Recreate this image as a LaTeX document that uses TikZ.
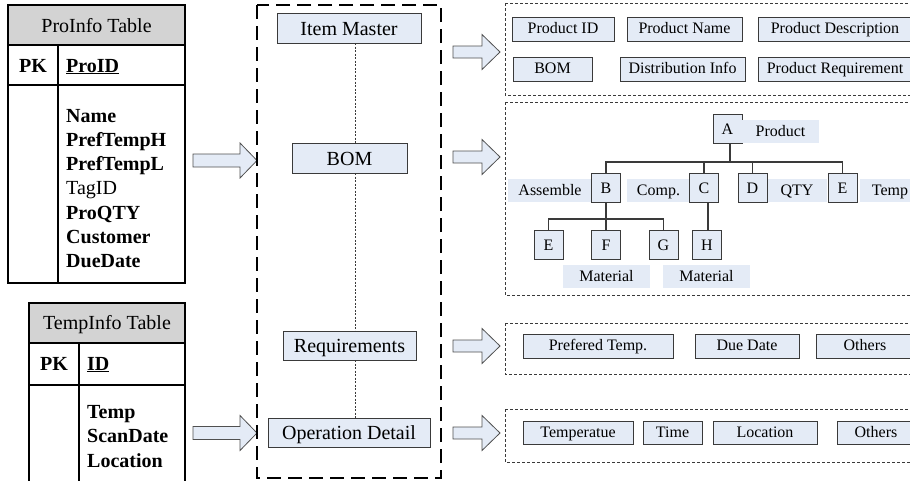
\documentclass[tikz,border=0pt]{standalone}
\usepackage{fontspec}
\setmainfont{Liberation Serif}
\definecolor{boxblue}{HTML}{E4EBF6}
\definecolor{boxline}{HTML}{3A3A3A}
\definecolor{hdrgray}{HTML}{D3D3D3}
\definecolor{arrline}{HTML}{505050}
\tikzset{
  item/.style={draw=boxline, fill=boxblue, line width=0.9pt, inner sep=0pt, outer sep=0pt,
    font=\fontsize{16}{19}\selectfont, minimum height=24pt, text height=12pt, text depth=3pt},
  mid/.style={item, font=\fontsize{20}{24}\selectfont, minimum height=30pt, text height=17pt, text depth=3pt},
  tb/.style={draw=boxline, fill=boxblue, line width=0.9pt, minimum width=29pt, minimum height=29pt,
    inner sep=0pt, outer sep=0pt, font=\fontsize{16}{19}\selectfont, text height=15pt, text depth=3pt},
  lbl/.style={fill=boxblue, inner sep=0pt, outer sep=0pt, minimum height=23pt, font=\fontsize{16}{19}\selectfont,
    text height=13pt, text depth=3pt},
  tabtxt/.style={anchor=base west, inner sep=0pt, font=\fontsize{20}{24}\selectfont},
  tabhdr/.style={anchor=base, inner sep=0pt, font=\fontsize{20}{24}\selectfont},
  tabline/.style={draw=black, line width=1.2pt},
  tree/.style={draw=boxline, line width=1.1pt},
  thindash/.style={draw=boxline, line width=0.8pt, dash pattern=on 3pt off 2pt},
  middash/.style={draw=black, line width=2.6pt, dash pattern=on 14pt off 7pt},
  link/.style={draw=boxline, line width=0.7pt, dash pattern=on 2pt off 1.5pt},
  leftarr/.pic={\draw[line width=0.8pt, draw=arrline, fill=boxblue]
    (0,-6.5) -- (47,-6.5) -- (47,-17.5) -- (64,0) -- (47,17.5) -- (47,6.5) -- (0,6.5) -- cycle;},
  rightarr/.pic={\draw[line width=0.8pt, draw=arrline, fill=boxblue]
    (0,-6) -- (29,-6) -- (29,-17.5) -- (47,0) -- (29,17.5) -- (29,6) -- (0,6) -- cycle;}
}
\begin{document}
\begin{tikzpicture}[x=1pt,y=-1pt]
\useasboundingbox (0,0) rectangle (910,480);
\clip (0,0) rectangle (910,480);

% ---------- ProInfo table ----------
\fill[hdrgray] (8,5) rectangle (185,45);
\draw[tabline] (8,5) rectangle (185,283);
\draw[tabline] (8,45) -- (185,45);
\draw[tabline] (8,85) -- (185,85);
\draw[tabline] (58,45) -- (58,283);
\node[tabhdr] (t1title) at (96.5,32) {ProInfo Table};
\node[tabhdr] (t1pk) at (33,72) {\bfseries PK};
\node[tabtxt] (t1id) at (66,72) {\bfseries\underline{ProID}};
\node[tabtxt] (f1) at (66,122) {\bfseries Name};
\node[tabtxt] (f2) at (66,146.3) {\bfseries PrefTempH};
\node[tabtxt] (f3) at (66,170.6) {\bfseries PrefTempL};
\node[tabtxt] (f4) at (66,194.9) {TagID};
\node[tabtxt] (f5) at (66,219.2) {\bfseries ProQTY};
\node[tabtxt] (f6) at (66,243.5) {\bfseries Customer};
\node[tabtxt] (f7) at (66,267.8) {\bfseries DueDate};

% ---------- TempInfo table ----------
\fill[hdrgray] (29,303) rectangle (185,343);
\draw[tabline] (29,303) rectangle (185,500);
\draw[tabline] (29,343) -- (185,343);
\draw[tabline] (29,385) -- (185,385);
\draw[tabline] (79,343) -- (79,500);
\node[tabhdr] (t2title) at (107,329) {TempInfo Table};
\node[tabhdr] (t2pk) at (54,370) {\bfseries PK};
\node[tabtxt] (t2id) at (87,370) {\bfseries\underline{ID}};
\node[tabtxt] (g1) at (87,418) {\bfseries Temp};
\node[tabtxt] (g2) at (87,442.5) {\bfseries ScanDate};
\node[tabtxt] (g3) at (87,467) {\bfseries Location};

% ---------- left block arrows ----------
\pic at (193,160.5) {leftarr};
\pic at (193,433) {leftarr};

% ---------- middle column ----------
\draw[middash] (257,5) rectangle (441,478);
\node[mid, minimum width=144pt] (im) at (349,28) {Item Master};
\node[mid, minimum width=115pt] (bom) at (349.5,158) {BOM};
\node[mid, minimum width=133pt, minimum height=29pt] (req) at (349.5,345.5) {Requirements};
\node[mid, minimum width=162pt, minimum height=29pt] (op) at (349,432.5) {Operation Detail};
\draw[link] ([xshift=6pt]im.south) -- ([xshift=6pt]im.south |- bom.north);
\draw[link] ([xshift=5.5pt]bom.south) -- ([xshift=5.5pt]bom.south |- req.north);
\draw[link] ([xshift=5.5pt]req.south) -- ([xshift=5.5pt]req.south |- op.north);

% ---------- right block arrows ----------
\pic at (453,52) {rightarr};
\pic at (453,157) {rightarr};
\pic at (453,346) {rightarr};
\pic at (453,433) {rightarr};

% ---------- right dashed boxes ----------
\draw[thindash] (505,3) -- (925,3) (505,3) -- (505,95) -- (925,95);
\draw[thindash] (505,102) -- (925,102) (505,102) -- (505,295) -- (925,295);
\draw[thindash] (505,323) -- (925,323) (505,323) -- (505,374) -- (925,374);
\draw[thindash] (505,409) -- (925,409) (505,409) -- (505,462) -- (925,462);

% box 1: item master fields
\node[item, minimum width=102pt] (pid) at (563,29) {Product ID};
\node[item, minimum width=115pt] (pname) at (684.5,29) {Product Name};
\node[item, minimum width=154pt] (pdesc) at (835,29) {Product Description};
\node[item, minimum width=79pt] (pbom) at (552.5,69) {BOM};
\node[item, minimum width=125pt] (pdist) at (682.5,69) {Distribution Info};
\node[item, minimum width=154pt] (preq) at (835,69) {Product Requirement};

% box 2: BOM tree
\node[lbl, minimum width=84pt] (lasm) at (550,190) {Assemble};
\node[lbl, minimum width=63pt] (lcomp) at (658.5,190) {Comp.};
\node[lbl, minimum width=60pt] (lqty) at (797,190) {QTY};
\node[lbl, minimum width=60pt] (ltemp) at (890,190) {Temp};
\node[lbl, minimum width=87pt] (lmat1) at (606.5,276.5) {Material};
\node[lbl, minimum width=87pt] (lmat2) at (706.5,276.5) {Material};

\node[tb] (A) at (727.5,128.5) {A};
\node[lbl, minimum width=77pt] (lprod) at (780.5,131.5) {Product};
\node[tb] (B) at (606,187.5) {B};
\node[tb] (C) at (704,187.5) {C};
\node[tb] (D) at (752.5,187.5) {D};
\node[tb] (E) at (842.5,187.5) {E};
\node[tb] (E2) at (548.5,244.5) {E};
\node[tb] (F) at (606,244.5) {F};
\node[tb] (G) at (663.5,244.5) {G};
\node[tb] (H) at (707,244.5) {H};

\draw[tree] ([xshift=2.5pt]A.south) -- ++(0,19) coordinate (busA);
\draw[tree] (busA) -| (B.north);
\draw[tree] (busA) -| (C.north);
\draw[tree] (busA) -| (D.north);
\draw[tree] (busA) -| (E.north);
\draw[tree] (B.south) -- ++(0,17) coordinate (busB);
\draw[tree] (busB) -| (E2.north);
\draw[tree] (busB) -| (F.north);
\draw[tree] (busB) -| (G.north);
\draw[tree] ([xshift=4pt]C.south) -- ([xshift=4pt]C.south |- H.north);

% box 3: requirements
\node[item, minimum width=150pt] (rtemp) at (598,346) {Prefered Temp.};
\node[item, minimum width=104pt] (rdue) at (747,346) {Due Date};
\node[item, minimum width=98pt] (roth) at (865,346) {Others};

% box 4: operation detail
\node[item, minimum height=23pt, minimum width=110pt] (otemp) at (578,432.5) {Temperatue};
\node[item, minimum height=23pt, minimum width=59pt] (otime) at (672.5,432.5) {Time};
\node[item, minimum height=23pt, minimum width=104pt] (oloc) at (765,432.5) {Location};
\node[item, minimum height=23pt, minimum width=78pt] (ooth) at (876,432.5) {Others};
\end{tikzpicture}
\end{document}
